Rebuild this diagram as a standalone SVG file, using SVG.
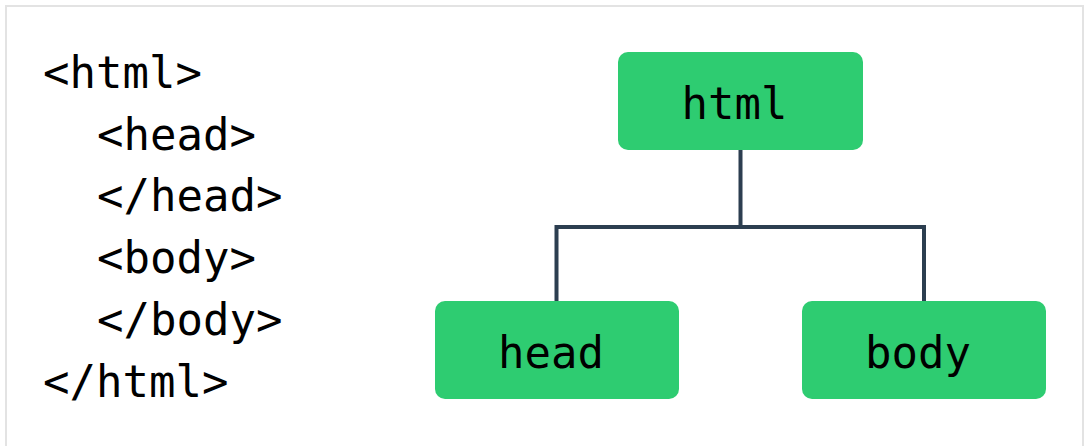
<svg xmlns="http://www.w3.org/2000/svg" width="1085" height="446" viewBox="0 0 1085 446">
<style>
.code{font-family:"DejaVu Sans Mono","Liberation Mono",monospace;font-size:44px;fill:#000}
.node rect{fill:#2ecc71}
.node text{font-family:"DejaVu Sans Mono","Liberation Mono",monospace;font-size:44px;fill:#000;text-anchor:middle}
.conn{fill:none;stroke:#2c3e50;stroke-width:4}
</style>
<rect x="0" y="0" width="1085" height="446" fill="#fff"/>
<rect x="6" y="6" width="1077" height="460" fill="#fff" stroke="#e3e3e3" stroke-width="2"/>
<g id="code">
<text class="code" x="43" y="88">&lt;html&gt;</text>
<text class="code" x="97" y="150">&lt;head&gt;</text>
<text class="code" x="97" y="211">&lt;/head&gt;</text>
<text class="code" x="97" y="273">&lt;body&gt;</text>
<text class="code" x="97" y="335">&lt;/body&gt;</text>
<text class="code" x="43" y="397">&lt;/html&gt;</text>
</g>
<g id="connectors">
<path class="conn" d="M740.5 150 V227 M556.5 301 V227 H924 V301"/>
</g>
<g id="node-html" class="node">
<rect x="618" y="52" width="245" height="98" rx="10"/>
<text x="734.5" y="119">html</text>
</g>
<g id="node-head" class="node">
<rect x="435" y="301" width="244" height="98" rx="10"/>
<text x="551" y="368">head</text>
</g>
<g id="node-body" class="node">
<rect x="802" y="301" width="244" height="98" rx="10"/>
<text x="918" y="368">body</text>
</g>
</svg>
